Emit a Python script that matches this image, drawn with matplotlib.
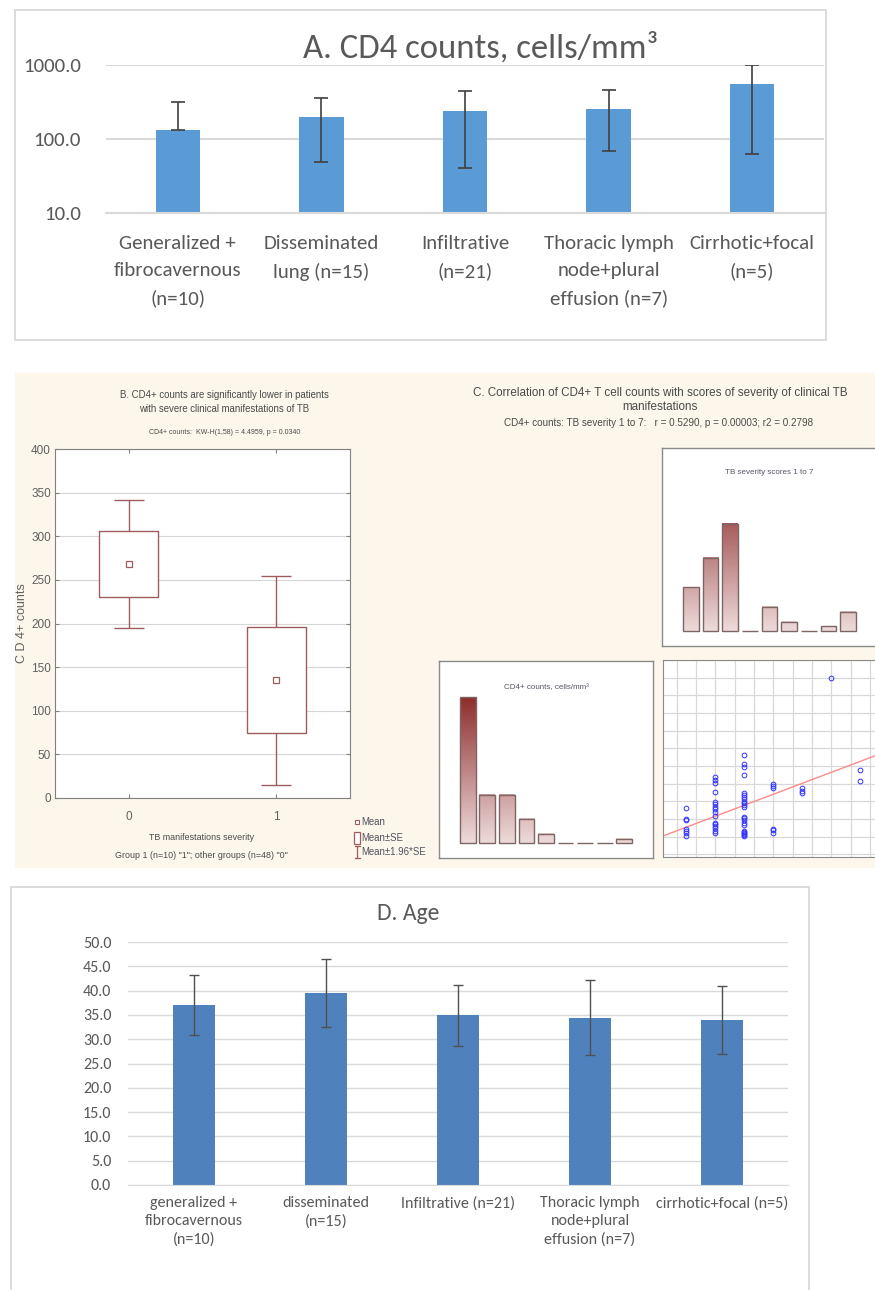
import numpy as np
import matplotlib.pyplot as plt
from matplotlib import font_manager
from matplotlib.patches import Rectangle
from matplotlib.colors import LinearSegmentedColormap

W, H = 875, 1290

# ---------------- data ----------------
# A. CD4 counts (log axis)
a_labels = ["Generalized +\nfibrocavernous\n(n=10)", "Disseminated\nlung (n=15)",
            "Infiltrative\n(n=21)", "Thoracic lymph\nnode+plural\neffusion (n=7)",
            "Cirrhotic+focal\n(n=5)"]
a_means = [133, 200, 242, 257, 550]
a_low = [133, 49, 41, 68, 63]
a_high = [316, 358, 450, 464, 1000]
a_yticks = [10, 100, 1000]

# B. CD4+ by severity group
b_groups = [0, 1]
b_means = [268, 135]
b_se = [37.5, 61]

# C. marginal histograms + scatter
c_sev_counts = [9, 15, 22, 0, 5, 2, 0, 1, 4]
c_cd4_counts = [30, 10, 10, 5, 2, 0, 0, 0, 1]
c_score = ([1] * 7 + [2] * 16 + [3] * 23 + [4] * 6 + [5] * 3 + [6] * 1 + [7] * 2)
c_cd4 = ([160, 100, 94, 43, 32, 19, 4] +
         [340, 321, 302, 255, 198, 185, 170, 157, 142, 119, 79, 70, 60, 47, 34, 19] +
         [462, 411, 396, 349, 245, 236, 226, 211, 198, 189, 179, 170, 113, 104, 94,
          79, 66, 34, 28, 23, 15, 9, 4] +
         [296, 287, 274, 45, 36, 23] +
         [274, 260, 245] +
         [900] +
         [377, 317])
fit_intercept = -8.3
fit_slope = 62.1

# D. Age
d_labels = ["generalized +\nfibrocavernous\n(n=10)", "disseminated\n(n=15)",
            "Infiltrative (n=21)", "Thoracic lymph\nnode+plural\neffusion (n=7)",
            "cirrhotic+focal (n=5)"]
d_means = [37.0, 39.5, 34.9, 34.4, 33.9]
d_err = [6.2, 7.0, 6.2, 7.7, 7.0]


def pick_font(names):
    have = {f.name for f in font_manager.fontManager.ttflist}
    for n in names:
        if n in have:
            return n
    return 'DejaVu Sans'


OFFICE = pick_font(['Carlito', 'Lato', 'Open Sans'])
NARROW = pick_font(['Liberation Sans', 'Arial'])


def box(x0, y0, x1, y1):
    # pixel box (origin top-left) -> figure rect
    return [x0 / W, 1 - y1 / H, (x1 - x0) / W, (y1 - y0) / H]


def fx(x):
    return x / W


def fy(y):
    return 1 - y / H


fig = plt.figure(figsize=(W / 100, H / 100), dpi=100)
fig.patch.set_facecolor('white')

GREY_TXT = '#595959'

# ---------------- Panel A ----------------
fig.add_artist(Rectangle((fx(15), fy(340)), 811 / W, 330 / H, transform=fig.transFigure,
                         fill=False, edgecolor='#d9d9d9', lw=1.3))
axA = fig.add_axes(box(106, 65, 824, 213))
xa = np.arange(len(a_labels))
am = np.array(a_means)
axA.bar(xa, am, width=0.31, color='#5b9bd5', zorder=2)
axA.errorbar(xa, am, yerr=[am - np.array(a_low), np.array(a_high) - am], fmt='none',
             ecolor='#404040', elinewidth=1.2, capsize=5, capthick=1.2, zorder=3)
axA.set_yscale('log')
axA.set_ylim(10, 1000)
axA.set_xlim(-0.5, 4.5)
axA.set_yticks(a_yticks)
axA.set_yticklabels([f'{v:.1f}' for v in a_yticks])
axA.minorticks_off()
axA.yaxis.grid(True, color='#d9d9d9', lw=1.5, zorder=0)
axA.set_axisbelow(True)
for s in ['top', 'right', 'left']:
    axA.spines[s].set_visible(False)
axA.spines['bottom'].set_color('#d9d9d9')
axA.spines['bottom'].set_linewidth(1.5)
axA.set_xticks(xa)
axA.set_xticklabels(a_labels, linespacing=1.7, va='top')
axA.tick_params(length=0, labelsize=15, labelcolor=GREY_TXT, pad=16)
axA.tick_params(axis='y', pad=18)
for t in axA.get_xticklabels() + axA.get_yticklabels():
    t.set_fontfamily(OFFICE)
fig.text(fx(481), fy(48), 'A. CD4 counts, cells/mm³', ha='center', va='center',
         fontsize=25, color=GREY_TXT, family=OFFICE)

# ---------------- Panels B & C background ----------------
CREAM = '#fcf7ea'
fig.add_artist(Rectangle((fx(15), fy(868)), (W - 15) / W, 495 / H, transform=fig.transFigure,
                         facecolor=CREAM, edgecolor='none', zorder=0))

BROWN = '#9e5c5c'
STAT_TXT = '#4a4a4a'

# ---------------- Panel B ----------------
axB = fig.add_axes(box(55, 449, 350, 798))
bm = np.array(b_means)
bse = np.array(b_se)
axB.errorbar(b_groups, bm, yerr=1.96 * bse, fmt='none', ecolor=BROWN, elinewidth=1,
             capsize=10.5, capthick=1, zorder=2)
axB.bar(b_groups, 2 * bse, bottom=bm - bse, width=0.4, facecolor='white',
        edgecolor=BROWN, lw=1, zorder=3)
axB.plot(b_groups, bm, 's', ms=4, mfc='white', mec=BROWN, mew=0.9, zorder=4)
axB.set_xlim(-0.5, 1.5)
axB.set_ylim(0, 400)
axB.set_yticks(np.arange(0, 401, 50))
axB.set_xticks(b_groups)
axB.yaxis.grid(True, color='#d6d6d6', lw=0.8)
axB.set_axisbelow(True)
for s in axB.spines.values():
    s.set_color('#808080')
axB.tick_params(direction='in', top=True, right=True, length=3, color='#808080',
                labelsize=8.5, labelcolor='#606060', pad=3)
axB.tick_params(axis='x', pad=9)
for t in axB.get_xticklabels() + axB.get_yticklabels():
    t.set_fontfamily(NARROW)

fig.text(fx(224), fy(402), 'B. CD4+ counts are significantly lower in patients\n'
         'with severe clinical manifestations of TB', ha='center', va='center',
         fontsize=6.9, color=STAT_TXT, family=NARROW, linespacing=1.45)
fig.text(fx(225), fy(432), 'CD4+ counts:  KW-H(1,58) = 4.4959, p = 0.0340', ha='center',
         va='center', fontsize=5.0, color=STAT_TXT, family=NARROW)
fig.text(fx(22), fy(623), 'C D 4+ counts', rotation=90, ha='center', va='center',
         fontsize=9, color='#606060', family=NARROW)
fig.text(fx(202), fy(838), 'TB manifestations severity', ha='center', va='center',
         fontsize=6.4, color=STAT_TXT, family=NARROW)
fig.text(fx(201), fy(855), 'Group 1 (n=10) "1"; other groups (n=48) "0"', ha='center',
         va='center', fontsize=6.4, color=STAT_TXT, family=NARROW)

# legend of panel B (drawn by hand to mimic Statistica symbols)
lg = fig.add_axes(box(345, 812, 437, 862))
lg.set_xlim(345, 437)
lg.set_ylim(862, 812)
lg.axis('off')
lg.plot([357], [822], 's', ms=3.2, mfc='white', mec=BROWN, mew=0.8)
lg.add_patch(Rectangle((354, 832), 6, 12, facecolor='white', edgecolor=BROWN, lw=0.9))
lg.plot([357, 357], [846, 858], color=BROWN, lw=0.9)
lg.plot([354.5, 359.5], [846, 846], color=BROWN, lw=0.9)
lg.plot([354.5, 359.5], [858, 858], color=BROWN, lw=0.9)
for yy, txt in zip([822, 838, 852], ['Mean', 'Mean±SE', 'Mean±1.96*SE']):
    lg.text(361, yy, txt, ha='left', va='center', fontsize=6.9, color='#505060',
            family=NARROW)

# ---------------- Panel C ----------------
fig.text(fx(660), fy(400), 'C. Correlation of CD4+ T cell counts with scores of severity of clinical TB\n'
         'manifestations', ha='center', va='center', fontsize=8.4, color=STAT_TXT,
         family=NARROW, linespacing=1.15)
fig.text(fx(659), fy(423), 'CD4+ counts: TB severity 1 to 7:   r = 0.5290, p = 0.00003; r2 = 0.2798',
         ha='center', va='center', fontsize=7.1, color=STAT_TXT, family=NARROW)

hist_cmap = LinearSegmentedColormap.from_list('stat', ['#eddada', '#760303'])


def grad_hist(ax, counts, title, ty):
    ymax = 37.5
    xs = np.arange(1, len(counts) + 1)
    for x, c in zip(xs, counts):
        if c > 0:
            g = np.linspace(0, c, 80).reshape(-1, 1)
            ax.imshow(g, extent=(x - 0.4, x + 0.4, 0, c), origin='lower', cmap=hist_cmap,
                      vmin=0, vmax=ymax, aspect='auto', zorder=2)
    ax.bar(xs, counts, width=0.8, fill=False, edgecolor='#7f6464', lw=1, zorder=3)
    ax.set_xlim(-0.47, 10.47)
    ax.set_ylim(-3, ymax)
    ax.set_xticks([])
    ax.set_yticks([])
    for s in ax.spines.values():
        s.set_color('#8a8a8a')
        s.set_linewidth(1)
    ax.text(0.5, ty, title, transform=ax.transAxes, ha='center', va='center',
            fontsize=5.8, color='#555566', family=NARROW)


axSev = fig.add_axes(box(662, 448, 877, 646))
grad_hist(axSev, c_sev_counts, 'TB severity scores 1 to 7', 1 - 25 / 198)
axCD4 = fig.add_axes(box(439, 661, 653, 858))
grad_hist(axCD4, c_cd4_counts, 'CD4+ counts, cells/mm³', 1 - 27 / 197)

axS = fig.add_axes(box(663, 660, 889, 857))
axS.set_xlim(0.195, 7.99)
axS.set_ylim(-115, 1000)
axS.set_xticks(np.arange(2 / 3, 8, 2 / 3))
axS.set_yticks(np.arange(-100, 1001, 100))
axS.grid(True, color='#d8d8d8', lw=0.9)
axS.set_axisbelow(True)
axS.tick_params(length=0, labelbottom=False, labelleft=False)
for s in axS.spines.values():
    s.set_color('#8a8a8a')
axS.plot(c_score, c_cd4, 'o', ms=3.4, mfc='none', mec='#3333ff', mew=0.7, zorder=3)
xl = np.array(axS.get_xlim())
axS.plot(xl, fit_intercept + fit_slope * xl, color='#ff8a8a', lw=1, zorder=2)

# ---------------- Panel D ----------------
fig.add_artist(Rectangle((fx(11), fy(1300)), 798 / W, 413 / H, transform=fig.transFigure,
                         fill=False, edgecolor='#d9d9d9', lw=1.3))
axD = fig.add_axes(box(128, 942, 788, 1185))
xd = np.arange(len(d_labels))
axD.bar(xd, d_means, width=0.32, color='#4f81bd', zorder=2)
axD.errorbar(xd, d_means, yerr=d_err, fmt='none', ecolor='#505050', elinewidth=1,
             capsize=3.5, capthick=1, zorder=3)
axD.set_xlim(-0.5, 4.5)
axD.set_ylim(0, 50)
axD.set_yticks(np.arange(0, 51, 5))
axD.set_yticklabels([f'{v:.1f}' for v in np.arange(0, 51, 5)])
axD.yaxis.grid(True, color='#d9d9d9', lw=1)
axD.set_axisbelow(True)
for s in ['top', 'right', 'left']:
    axD.spines[s].set_visible(False)
axD.spines['bottom'].set_color('#d9d9d9')
axD.set_xticks(xd)
axD.set_xticklabels(d_labels, linespacing=1.37, va='top')
axD.tick_params(length=0, labelsize=11.5, labelcolor=GREY_TXT, pad=8)
axD.tick_params(axis='y', pad=12)
for t in axD.get_xticklabels() + axD.get_yticklabels():
    t.set_fontfamily(OFFICE)
fig.text(fx(408), fy(913), 'D. Age', ha='center', va='center', fontsize=17,
         color=GREY_TXT, family=OFFICE)

fig.savefig('out.png', dpi=100)
